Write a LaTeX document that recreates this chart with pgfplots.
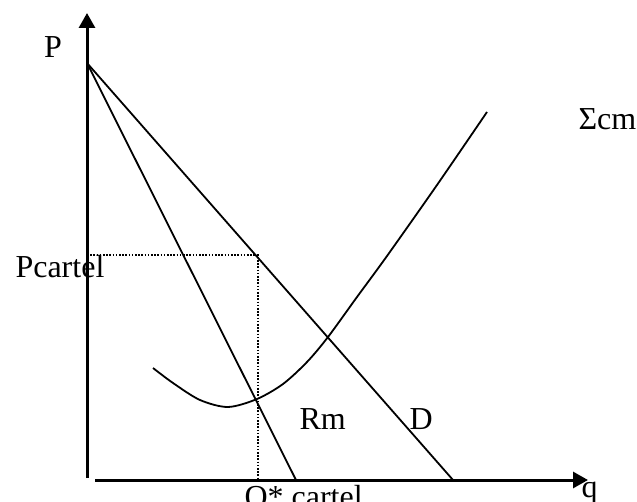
\documentclass[border=0pt]{standalone}
\usepackage{pgfplots}
\pgfplotsset{compat=1.18}
\usetikzlibrary{arrows.meta}
\usepackage{fontspec}
\setmainfont{Liberation Serif}

\begin{document}
\begin{tikzpicture}[font=\fontsize{32}{38}\selectfont]
\begin{axis}[
    at={(0,0)}, anchor=south west,
    scale only axis,
    width=637pt, height=501pt,
    xmin=-87, xmax=550,
    ymin=-21, ymax=480,
    hide axis,
    clip=false,
    every node/.style={inner sep=0pt, outer sep=0pt},
]
% axes
\addplot[black, line width=3pt, -{Triangle[length=15pt,width=16pt]}] coordinates {(0,2) (0,467)};
\addplot[black, line width=3pt, -{Triangle[length=15pt,width=16pt]}] coordinates {(8,0) (501,0)};
% demand and marginal revenue
\addplot[black, line width=1.8pt] coordinates {(0,417) (366,0)};
\addplot[black, line width=1.8pt] coordinates {(0,417) (209,0)};
% cartel price and quantity
\addplot[black, line width=2pt, dash pattern=on 1.6pt off 1.6pt] coordinates {(0,225) (171,225) (171,0)};
% sum of marginal costs
\addplot[black, line width=1.8pt, smooth] coordinates {
    (66,112) (86,97) (113,80) (141,73) (170,81) (196,96) (220,118)
    (241,143) (270,183) (300,224) (350,295) (400,368)
};
\node[anchor=base] at (axis cs:-34,422) {P};
\node[anchor=base west] at (axis cs:-75,202) {Pcartel};
\node[anchor=base west] at (axis cs:488,350) {Σcm};
\node[anchor=base west] at (axis cs:209,51) {Rm};
\node[anchor=base west] at (axis cs:319,51) {D};
\node[anchor=base west] at (axis cs:154,-27) {Q* cartel};
\node[anchor=base west] at (axis cs:491,-17) {q};
\end{axis}
\pgfresetboundingbox
\path[use as bounding box] (0,0) rectangle (637pt,501pt);
\end{tikzpicture}
\end{document}
